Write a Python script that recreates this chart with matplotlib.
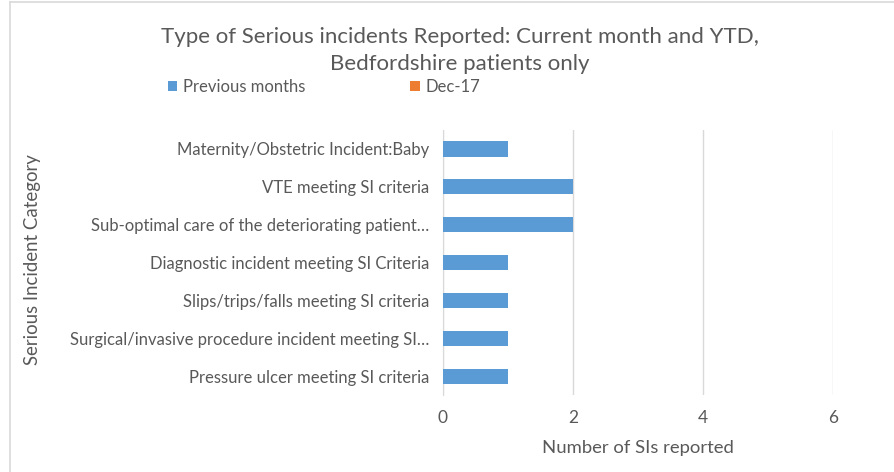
import matplotlib
matplotlib.use("Agg")
import matplotlib.pyplot as plt
from matplotlib.lines import Line2D
import numpy as np

plt.rcParams['font.family'] = ['Lato', 'DejaVu Sans']

categories = [
    "Maternity/Obstetric Incident:Baby",
    "VTE meeting SI criteria",
    "Sub-optimal care of the deteriorating patient\u2026",
    "Diagnostic incident meeting SI Criteria",
    "Slips/trips/falls meeting SI criteria",
    "Surgical/invasive procedure incident meeting SI\u2026",
    "Pressure ulcer meeting SI criteria",
]
previous_months = [1, 2, 2, 1, 1, 1, 1]
dec_17 = [0, 0, 0, 0, 0, 0, 0]
x_ticks = [0, 2, 4, 6]

grey = '#595959'
blue = '#5b9bd5'
orange = '#ed7d31'

fig = plt.figure(figsize=(8.94, 4.72), dpi=100)
ax = fig.add_axes([443/894, 1 - 395/472, 390/894, 265/472])

y = np.arange(len(categories))[::-1]
ax.barh(y, previous_months, height=0.4, color=blue, label='Previous months', zorder=3)
ax.barh(y, dec_17, left=previous_months, height=0.4, color=orange, label='Dec-17', zorder=3)

ax.set_xlim(0, 6)
ax.set_ylim(-0.5, len(categories) - 0.5)
ax.set_xticks(x_ticks)
ax.set_yticks(y)
ax.set_yticklabels(categories)
ax.tick_params(axis='both', length=0, colors=grey)
ax.tick_params(axis='y', pad=10, labelsize=12)
ax.tick_params(axis='x', pad=11, labelsize=12.5)
ax.grid(axis='x', color='#d9d9d9', linewidth=1, zorder=0)
for s in ['top', 'right', 'bottom']:
    ax.spines[s].set_visible(False)
ax.spines['left'].set_color('#d9d9d9')

ax.set_xlabel('Number of SIs reported', color=grey, fontsize=13.3, labelpad=10)
fig.text(33/894, 1 - 260/472, 'Serious Incident Category', rotation=90,
         color=grey, fontsize=13.4, ha='center', va='center')

fig.text(460/894, 1 - 37/472, 'Type of Serious incidents Reported: Current month and YTD,',
         color=grey, fontsize=16, ha='center', va='center')
fig.text(460/894, 1 - 64/472, 'Bedfordshire patients only',
         color=grey, fontsize=16, ha='center', va='center')

leg = fig.legend(loc='center left', bbox_to_anchor=(153/894, 1 - 87/472), ncol=2,
                 frameon=False, fontsize=12, handlelength=0.55, handleheight=0.55,
                 handletextpad=0.35, columnspacing=6.3, labelcolor=grey)

# chart frame (left and top edges visible)
fig.add_artist(Line2D([10/894, 10/894], [0, 1 - 2/472], color='#d9d9d9', linewidth=1.2))
fig.add_artist(Line2D([10/894, 1], [1 - 2/472, 1 - 2/472], color='#d9d9d9', linewidth=1.2))

fig.savefig('out.png', dpi=100)
